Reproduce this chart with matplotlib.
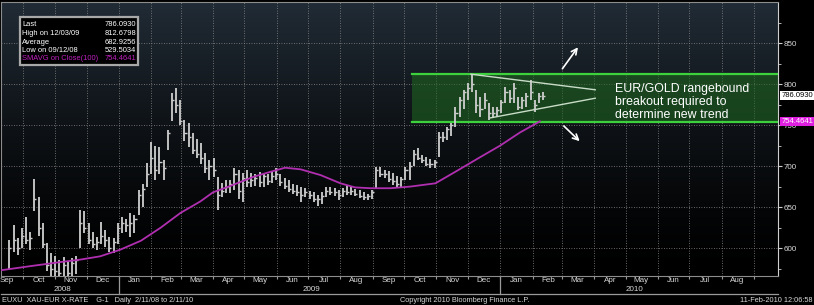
import numpy as np
import pandas as pd
import matplotlib
matplotlib.use("Agg")
from matplotlib import pyplot as plt
import matplotlib.dates as mdates
from matplotlib.patches import Rectangle
from matplotlib.transforms import blended_transform_factory

plt.rcParams['font.family'] = ['Liberation Sans', 'DejaVu Sans']

bar_start = '2008-09-10'
bar_end = '2010-02-11'
highs = [560, 562, 610, 628, 612, 625, 638, 620, 684, 662, 630, 606, 594, 590, 585, 589, 584, 588, 590,
         646, 645, 630, 620, 613, 632, 622, 613, 612, 630, 638, 636, 643, 640, 671,
         678, 704, 729, 725, 723, 707, 744, 789, 795, 780, 756, 752, 740, 733, 728, 716, 707, 710,
         687, 679, 683, 683, 698, 695, 691, 695, 691, 690, 693, 691, 690, 693,
         698, 690, 686, 683, 678, 677, 675, 673, 670, 668, 665, 668, 675, 674, 673, 671, 673, 677,
         675, 672, 671, 668, 666, 671, 699, 699, 695, 694, 691, 688, 687, 699,
         705, 720, 722, 713, 711, 709, 708, 741, 741, 748, 752, 772, 784, 793, 801, 812.7, 793,
         784, 789, 777, 772, 772, 781, 796, 793, 801, 784, 784, 789, 805, 780, 789, 790]
lows = [530, 540, 575, 595, 592, 600, 605, 598, 645, 615, 600, 572, 566, 565, 563, 566, 562, 565, 568,
        600, 618, 605, 600, 598, 605, 601, 595, 594, 605, 618, 620, 613, 618, 640,
        650, 675, 690, 683, 690, 683, 720, 755, 765, 750, 730, 723, 715, 710, 702, 692, 683, 687,
        646, 662, 667, 667, 671, 660, 656, 675, 675, 676, 675, 675, 677, 679,
        683, 676, 672, 668, 666, 664, 656, 662, 660, 656, 651, 654, 662, 665, 664, 659, 662, 665,
        665, 663, 661, 659, 659, 660, 672, 687, 685, 680, 677, 675, 673, 683,
        683, 700, 707, 704, 700, 698, 698, 711, 729, 732, 737, 748, 760, 769, 780, 790, 765,
        760, 769, 756, 758, 760, 765, 777, 777, 777, 768, 770, 772, 780, 766, 777, 780]
closes = [545, 552, 600, 610, 600, 615, 610, 612, 660, 625, 605, 580, 575, 572, 570, 580, 570, 582, 585,
          630, 625, 610, 605, 607, 615, 610, 600, 608, 625, 630, 628, 630, 635, 665,
          672, 690, 710, 695, 705, 698, 740, 780, 775, 755, 740, 735, 720, 715, 710, 698, 700, 695,
          665, 670, 675, 678, 690, 670, 685, 680, 683, 686, 680, 688, 682, 688,
          690, 680, 676, 672, 670, 668, 665, 668, 665, 660, 660, 664, 670, 668, 668, 665, 670, 668,
          670, 666, 664, 662, 664, 668, 695, 690, 690, 684, 682, 678, 684, 695,
          700, 715, 710, 708, 703, 702, 705, 735, 735, 745, 750, 765, 780, 790, 795, 800, 775,
          770, 780, 765, 765, 768, 778, 790, 783, 795, 772, 780, 785, 790, 775, 785, 786]

# 100-day simple moving average (magenta)
sma_dates = ['2008-09-10', '2008-10-08', '2008-11-06', '2008-11-25', '2008-12-14', '2009-01-02',
             '2009-01-22', '2009-02-10', '2009-03-01', '2009-03-20', '2009-04-01', '2009-04-18',
             '2009-05-10', '2009-05-26', '2009-06-09', '2009-06-24', '2009-07-13', '2009-08-01',
             '2009-08-15', '2009-08-30', '2009-09-18', '2009-10-07', '2009-10-31', '2009-11-19',
             '2009-12-13', '2010-01-01', '2010-01-20', '2010-02-08']
sma_values = [573, 578, 583, 586, 590, 598, 609, 625, 643, 657, 668, 676, 687, 693, 698, 696, 689,
              679, 674, 673, 673, 675, 679, 693, 711, 725, 741, 754.5]

# summary box
stat_names = ['Last', 'High on 12/03/09', 'Average', 'Low on 09/12/08', 'SMAVG on Close(100)']
stat_values = ['786.0930', '812.6798', '682.9256', '529.5034', '754.4641']
last_value = 786.0930
sma_last = 754.4641

# range box and triangle
range_start = '2009-10-09'
range_low, range_high = 753.6, 812.7
tri_upper_dates = ['2009-12-04', '2010-04-02']
tri_upper_vals = [812, 793]
tri_lower_dates = ['2009-12-22', '2010-04-02']
tri_lower_vals = [758.6, 782.7]

y_ticks = [600, 650, 700, 750, 800, 850]
x_start, x_end = '2008-09-10', '2010-09-24'
y_min, y_max = 566, 900

bar_dates = pd.date_range(bar_start, bar_end, periods=len(highs))

# ---- figure ----
W, H = 814, 305
fig = plt.figure(figsize=(W / 100, H / 100), dpi=100, facecolor='black')
ax_l, ax_r, ax_t, ax_b = 1, 778, 2, 276  # pixel box of the plot area
ax = fig.add_axes([ax_l / W, 1 - ax_b / H, (ax_r - ax_l) / W, (ax_b - ax_t) / H])
ax.set_facecolor('black')

# background gradient (slate at top to black at bottom)
grad = np.linspace(1, 0, 256) ** 1.4
rgb = np.zeros((256, 1, 3))
rgb[:, 0, 0] = 0.13 * grad
rgb[:, 0, 1] = 0.17 * grad
rgb[:, 0, 2] = 0.21 * grad
ax.imshow(rgb, extent=[0, 1, 0, 1], transform=ax.transAxes, aspect='auto', zorder=0)

x0 = mdates.date2num(pd.Timestamp(x_start))
x1 = mdates.date2num(pd.Timestamp(x_end))
ax.set_xlim(x0, x1)
ax.set_ylim(y_min, y_max)

# grid
months = pd.date_range('2008-10-01', '2010-09-01', freq='MS')
for m in months:
    ax.axvline(m, color='#8a8a8a', lw=0.6, ls=(0, (1, 2)), zorder=1)
for v in y_ticks:
    ax.axhline(v, color='#8a8a8a', lw=0.6, ls=(0, (1, 2)), zorder=1)

# range box
rs = mdates.date2num(pd.Timestamp(range_start))
ax.add_patch(Rectangle((rs, range_low), x1 - rs, range_high - range_low,
                       facecolor='#1f6a1f', alpha=0.55, edgecolor='none', zorder=2))
ax.plot([rs, x1], [range_high, range_high], color='#3ed13e', lw=1.6, zorder=3)
ax.plot([rs, x1], [range_low, range_low], color='#3ed13e', lw=1.6, zorder=3)

# price bars (high-low with close tick) and moving average
bx = mdates.date2num(bar_dates)
ax.vlines(bx, lows, highs, color='#cfcfcf', lw=1.3, zorder=4)
ax.hlines(closes, bx, bx + 2.0, color='#cfcfcf', lw=1.0, zorder=4)
ax.plot(pd.to_datetime(sma_dates), sma_values, color='#b02fb0', lw=1.3, zorder=5)

# triangle
ax.plot(pd.to_datetime(tri_upper_dates), tri_upper_vals, color='#c8dcc8', lw=1, zorder=5)
ax.plot(pd.to_datetime(tri_lower_dates), tri_lower_vals, color='#c8dcc8', lw=1, zorder=5)

# arrows
ax.annotate('', xy=(pd.Timestamp('2010-03-18'), 847.6), xytext=(pd.Timestamp('2010-02-28'), 815.9),
            arrowprops=dict(arrowstyle='->', color='white', lw=1.2), zorder=6)
ax.annotate('', xy=(pd.Timestamp('2010-03-20'), 728), xytext=(pd.Timestamp('2010-03-01'), 751.2),
            arrowprops=dict(arrowstyle='->', color='white', lw=1.2), zorder=6)

ax.text(pd.Timestamp('2010-04-21'), 778, 'EUR/GOLD rangebound\nbreakout required to\ndetermine new trend',
        color='white', fontsize=8.9, va='center', ha='left', linespacing=1.12, zorder=6)

# axes
for s in ['left', 'top', 'bottom']:
    ax.spines[s].set_color('#8c8c8c')
ax.spines['right'].set_color('#cfcfcf')
ax.yaxis.tick_right()
ax.set_yticks(y_ticks)
ax.set_yticks(np.arange(575, 900, 25), minor=True)
ax.tick_params(axis='y', which='major', colors='#cfcfcf', labelcolor='#d8d8d8', labelsize=5.8,
               length=3, pad=1)
ax.tick_params(axis='y', which='minor', colors='#cfcfcf', length=2)

ax.set_xticks(mdates.date2num(months))
ax.set_xticklabels([])
mid_months = pd.date_range('2008-09-01', '2010-08-01', freq='MS') + pd.Timedelta(days=15)
ax.set_xticks(mdates.date2num(mid_months), minor=True)
ax.set_xticklabels([d.strftime('%b') for d in mid_months], minor=True)
ax.tick_params(axis='x', which='major', colors='#9a9a9a', length=2, direction='out')
ax.tick_params(axis='x', which='minor', length=0, labelcolor='#d8d8d8', labelsize=5.8, pad=1)

# year row and frame below the axis
bt = blended_transform_factory(ax.transData, ax.transAxes)
row_bottom = -(294 - ax_b) / (ax_b - ax_t)
ax.plot([x0, x1], [row_bottom, row_bottom], color='#9a9a9a', lw=0.9, transform=bt, clip_on=False)
for yr in ['2009-01-01', '2010-01-01']:
    xd = mdates.date2num(pd.Timestamp(yr))
    ax.plot([xd, xd], [0, row_bottom], color='#9a9a9a', lw=0.9, transform=bt, clip_on=False)
year_rows = [('2008', '2008-11-08'), ('2009', '2009-07-04'), ('2010', '2010-05-10')]
year_y = -(289.5 - ax_b) / (ax_b - ax_t)
for label, d in year_rows:
    ax.text(pd.Timestamp(d), year_y, label, transform=bt, color='#d8d8d8', fontsize=5.8,
            ha='center', va='center')

# summary box (top left)
def fx(px):
    return px / W


def fy(py):
    return 1 - py / H


fig.patches.append(Rectangle((fx(20), fy(65)), fx(118), 48 / H, transform=fig.transFigure,
                             facecolor='black', edgecolor='#a8a8a8', lw=1.6, zorder=10))
for k, (name, val) in enumerate(zip(stat_names, stat_values)):
    col = '#c020c0' if k == 4 else 'white'
    yy = fy(25 + k * 8.5)
    fig.text(fx(22), yy, name, color=col, fontsize=5.4, va='center', ha='left', zorder=11)
    fig.text(fx(136), yy, val, color=col, fontsize=5.4, va='center', ha='right', zorder=11)

# right-side value tags
rt = blended_transform_factory(ax.transAxes, ax.transData)
ax.text(1.004, last_value, '786.0930', transform=rt, color='black', fontsize=5.5, va='center',
        ha='left', bbox=dict(boxstyle='square,pad=0.12', facecolor='white', edgecolor='none'),
        zorder=12, clip_on=False)
ax.text(1.004, sma_last, '754.4641', transform=rt, color='white', fontsize=5.5, va='center',
        ha='left', bbox=dict(boxstyle='square,pad=0.12', facecolor='#e020e0', edgecolor='none'),
        zorder=12, clip_on=False)

# footer
fig.text(fx(2), fy(300), 'EUXU  XAU-EUR X-RATE    G-1   Daily  2/11/08 to 2/11/10',
         color='#d8d8d8', fontsize=5.3, va='center', ha='left')
fig.text(fx(400), fy(300), 'Copyright 2010 Bloomberg Finance L.P.', color='#d8d8d8',
         fontsize=5.3, va='center', ha='left')
fig.text(fx(812), fy(300), '11-Feb-2010 12:06:58', color='#d8d8d8', fontsize=5.3,
         va='center', ha='right')

fig.savefig('out.png', dpi=100, facecolor='black')
